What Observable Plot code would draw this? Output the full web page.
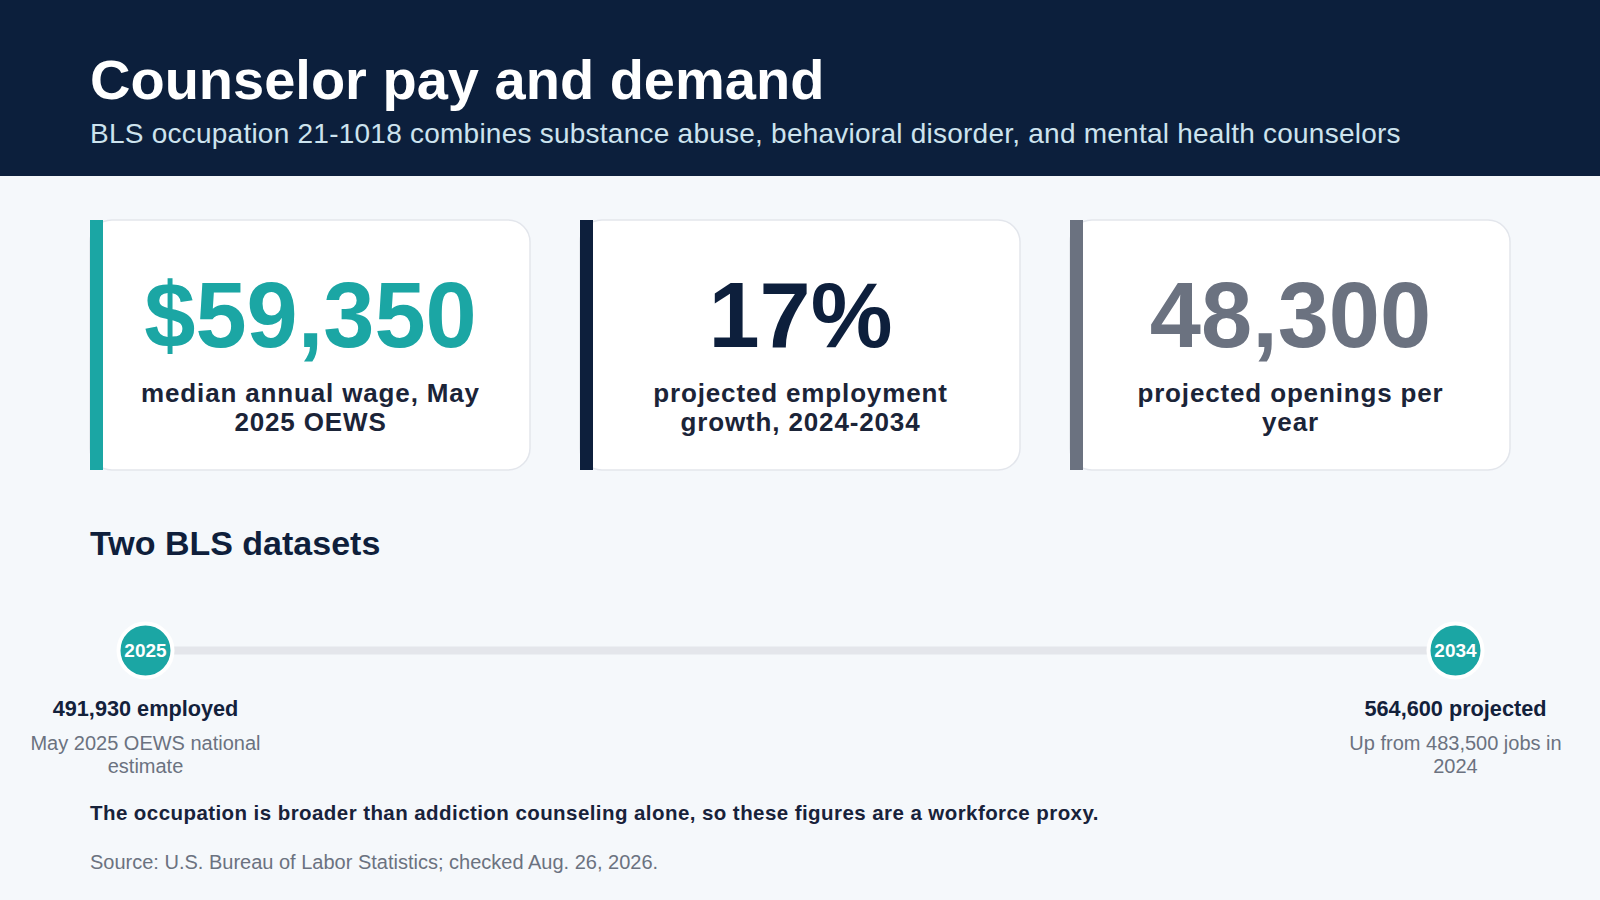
<!DOCTYPE html>
<html>
<head>
<meta charset="utf-8">
<script src="https://cdn.jsdelivr.net/npm/d3@7"></script>
<script src="https://cdn.jsdelivr.net/npm/@observablehq/plot@0.6"></script>
<style>
  html, body { margin: 0; padding: 0; background: #f5f8fb; }
  body { width: 1600px; height: 900px; position: relative; overflow: hidden;
         font-family: "Liberation Sans", Arial, Helvetica, sans-serif; }
  #header { position: absolute; left: 0; top: 0; width: 1600px; height: 176px; background: #0c1f3c; }
  .t { position: absolute; left: 90px; white-space: nowrap; line-height: 1; margin: 0; }
  #title { top: 52px; font-size: 56px; font-weight: bold; color: #ffffff; }
  #subtitle { top: 120px; font-size: 28px; letter-spacing: 0.24px; color: #cde3ee; }
  #heading { top: 526px; font-size: 34px; font-weight: bold; color: #0f1f3b; }
  #note { top: 803px; font-size: 20.5px; letter-spacing: 0.43px; font-weight: bold; color: #18223a; }
  #source { top: 852.4px; font-size: 20px; color: #6b7280; }
  .plotbox { position: absolute; left: 0; width: 1600px; }
  #cards { top: 176px; }
  #timeline { top: 590px; }
</style>
</head>
<body>
<div id="header">
  <div class="t" id="title">Counselor pay and demand</div>
  <div class="t" id="subtitle">BLS occupation 21-1018 combines substance abuse, behavioral disorder, and mental health counselors</div>
</div>
<div class="plotbox" id="cards"></div>
<div class="t" id="heading">Two BLS datasets</div>
<div class="plotbox" id="timeline"></div>
<div class="t" id="note">The occupation is broader than addiction counseling alone, so these figures are a workforce proxy.</div>
<div class="t" id="source">Source: U.S. Bureau of Labor Statistics; checked Aug. 26, 2026.</div>
<script>
// ---- data ----
const metricKeys = ["wage", "growth", "openings"];
const metricValues = ["$59,350", "17%", "48,300"];
const metricLabels = [
  "median annual wage, May 2025 OEWS",
  "projected employment growth, 2024-2034",
  "projected openings per year"
];
const timelineYears = [2025, 2034];
const timelineHeadlines = ["491,930 employed", "564,600 projected"];
const timelineNotes = ["May 2025 OEWS national estimate", "Up from 483,500 jobs in 2024"];

// ---- styles ----
const accentColors = ["#1ba6a4", "#0d1f3c", "#6b7280"];
const teal = "#1ba6a4";
const fontFamily = '"Liberation Sans", Arial, Helvetica, sans-serif';
const labelSpacing = 0.85;

// wrap a string into lines that fit a pixel width, measured with the real font
const ctx = document.createElement("canvas").getContext("2d");
function wrapText(text, font, spacing, maxWidth) {
  ctx.font = font;
  const words = text.split(" ");
  const lines = [];
  let line = "";
  for (const w of words) {
    const test = line ? line + " " + w : w;
    const width = ctx.measureText(test).width + spacing * test.length;
    if (width > maxWidth && line) { lines.push(line); line = w; } else line = test;
  }
  lines.push(line);
  return lines.join("\n");
}

const labelFont = `bold 26px ${fontFamily}`;
const cards = metricKeys.map((key, i) => ({
  key,
  value: metricValues[i],
  label: wrapText(metricLabels[i], labelFont, labelSpacing, 352)
}));

const cardPlot = Plot.plot({
  width: 1600,
  height: 324,
  marginTop: 44,
  marginBottom: 30,
  marginLeft: 90,
  marginRight: 90,
  x: {domain: metricKeys, paddingInner: 50 / 490, paddingOuter: 0, axis: null},
  color: {domain: metricKeys, range: accentColors},
  style: {background: "transparent", fontFamily},
  marks: [
    Plot.cell(cards, {x: "key", fill: "#ffffff", stroke: "#e3e6ec", strokeWidth: 1.5, rx: 22, inset: 0}),
    Plot.cell(cards, {x: "key", fill: "key", inset: 0, insetRight: 427}),
    Plot.text(cards, {x: "key", text: "value", fill: "key", frameAnchor: "top", dy: 126.7,
      lineAnchor: "bottom", fontSize: 92, fontWeight: "bold"}),
    Plot.text(cards, {x: "key", text: "label", fill: "#1b2438", frameAnchor: "top", dy: 159.7,
      lineAnchor: "top", lineHeight: 30 / 26, fontSize: 26, fontWeight: "bold"})
  ]
});
// letter-spacing for the card labels (the 26px text group)
d3.select(cardPlot).selectAll("g")
  .filter(function () { return this.getAttribute("font-size") === "26"; })
  .selectAll("text")
  .attr("letter-spacing", labelSpacing)
  .style("letter-spacing", labelSpacing + "px");
document.getElementById("cards").appendChild(cardPlot);

const noteFont = `20px ${fontFamily}`;
const timeline = timelineYears.map((year, i) => ({
  year,
  headline: timelineHeadlines[i],
  note: wrapText(timelineNotes[i], noteFont, 0, 240)
}));
const span = [{start: d3.min(timelineYears), end: d3.max(timelineYears)}];

const timelinePlot = Plot.plot({
  width: 1600,
  height: 200,
  marginTop: 0,
  marginBottom: 80,
  marginLeft: 145,
  marginRight: 145,
  x: {domain: d3.extent(timelineYears), axis: null},
  style: {background: "transparent", fontFamily},
  marks: [
    Plot.ruleY(span, {x1: "start", x2: "end", y: null, stroke: "#e4e6eb", strokeWidth: 8}),
    Plot.dot(timeline, {x: "year", r: 27, fill: teal, stroke: "#ffffff", strokeWidth: 4}),
    Plot.text(timeline, {x: "year", text: (d) => String(d.year), fill: "#ffffff", fontSize: 19, fontWeight: "bold"}),
    Plot.text(timeline, {x: "year", text: "headline", dy: 65.5, lineAnchor: "bottom",
      fontSize: 21.7, fontWeight: "bold", fill: "#13213b"}),
    Plot.text(timeline, {x: "year", text: "note", dy: 83, lineAnchor: "top", lineHeight: 1.15,
      fontSize: 20, fill: "#6b7280"})
  ]
});
document.getElementById("timeline").appendChild(timelinePlot);
</script>
</body>
</html>
